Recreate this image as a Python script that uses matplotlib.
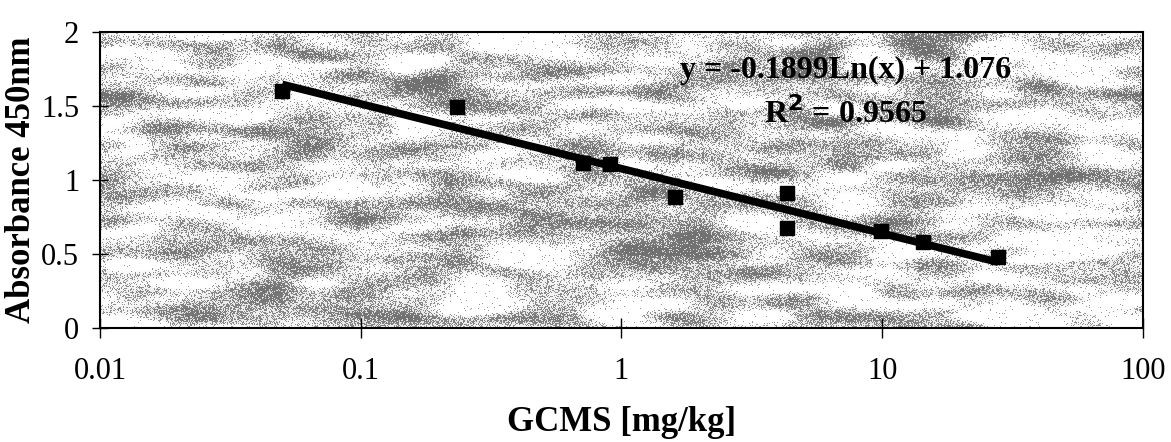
import numpy as np
import matplotlib
matplotlib.use("Agg")
import matplotlib.pyplot as plt
from matplotlib.ticker import FixedLocator, FixedFormatter, NullLocator

plt.rcParams['font.family'] = ['Liberation Serif', 'DejaVu Serif']

# GCMS concentration vs ELISA absorbance
gcms = [0.05, 0.233, 0.71, 0.905, 1.61, 4.31, 4.31, 9.9, 14.4, 27.7]
absorbance = [1.60, 1.49, 1.115, 1.105, 0.887, 0.91, 0.678, 0.655, 0.583, 0.48]

# logarithmic trendline y = a*ln(x) + b
slope = -0.1899
intercept = 1.076
r2 = 0.9565

x_ticks = [0.01, 0.1, 1, 10, 100]
x_ticklabels = ['0.01', '0.1', '1', '10', '100']
y_ticks = [0, 0.5, 1, 1.5, 2]
y_ticklabels = ['0', '0.5', '1', '1.5', '2']

fig = plt.figure(figsize=(11.71, 4.42), dpi=100)
ax = fig.add_axes([0.0854, 0.258, 0.8906, 0.670])

# granite-like fill for the plot area (smoothed noise, stretched sideways,
# then dithered into dots)
rng = np.random.default_rng(7)
H, W = 296, 1043
field = rng.standard_normal((H, W))
fy = np.fft.fftfreq(H)[:, None]
fx = np.fft.fftfreq(W)[None, :]
filt = np.exp(-((fx * 90) ** 2 + (fy * 22) ** 2))
smooth = np.real(np.fft.ifft2(np.fft.fft2(field) * filt))
smooth = (smooth - smooth.mean()) / smooth.std()
dark = np.clip(0.30 + 0.25 * smooth, 0.02, 0.9)
grain = rng.random((H, W)) < dark
tex = np.where(grain, 0.42, 1.0)
tex = 0.7 * tex + 0.3 * (1.0 - 0.55 * dark)
ax.imshow(tex, cmap='gray', vmin=0, vmax=1, extent=[0, 1, 0, 1],
          transform=ax.transAxes, aspect='auto', interpolation='nearest',
          zorder=0)

xs = np.logspace(np.log10(min(gcms)), np.log10(max(gcms)), 200)
ax.plot(xs, slope * np.log(xs) + intercept, color='black', lw=5.5, zorder=3,
        solid_capstyle='butt')
ax.plot(gcms, absorbance, 's', color='black', ms=10.5, zorder=4)

ax.set_xscale('log')
ax.set_xlim(0.01, 100)
ax.set_ylim(0, 2)
ax.xaxis.set_major_locator(FixedLocator(x_ticks))
ax.xaxis.set_major_formatter(FixedFormatter(x_ticklabels))
ax.xaxis.set_minor_locator(NullLocator())
ax.yaxis.set_major_locator(FixedLocator(y_ticks))
ax.yaxis.set_major_formatter(FixedFormatter(y_ticklabels))

ax.tick_params(axis='x', direction='inout', length=14, width=1,
               labelsize=22, pad=14)
ax.tick_params(axis='y', direction='inout', length=12, width=1,
               labelsize=22, pad=9)
for sp in ax.spines.values():
    sp.set_linewidth(1.5)
    sp.set_zorder(5)

ax.set_xlabel('GCMS [mg/kg]', fontsize=25, fontweight='bold', labelpad=14)
ax.set_ylabel('Absorbance 450nm', fontsize=25, fontweight='bold', labelpad=2)

ax.text(0.715, 0.87, 'y = -0.1899Ln(x) + 1.076', transform=ax.transAxes,
        ha='center', va='center', fontsize=23, fontweight='bold', zorder=6)
ax.text(0.715, 0.725, 'R$^{\\mathbf{2}}$ = 0.9565', transform=ax.transAxes,
        ha='center', va='center', fontsize=23, fontweight='bold', zorder=6)

fig.savefig('out.png', dpi=100)
